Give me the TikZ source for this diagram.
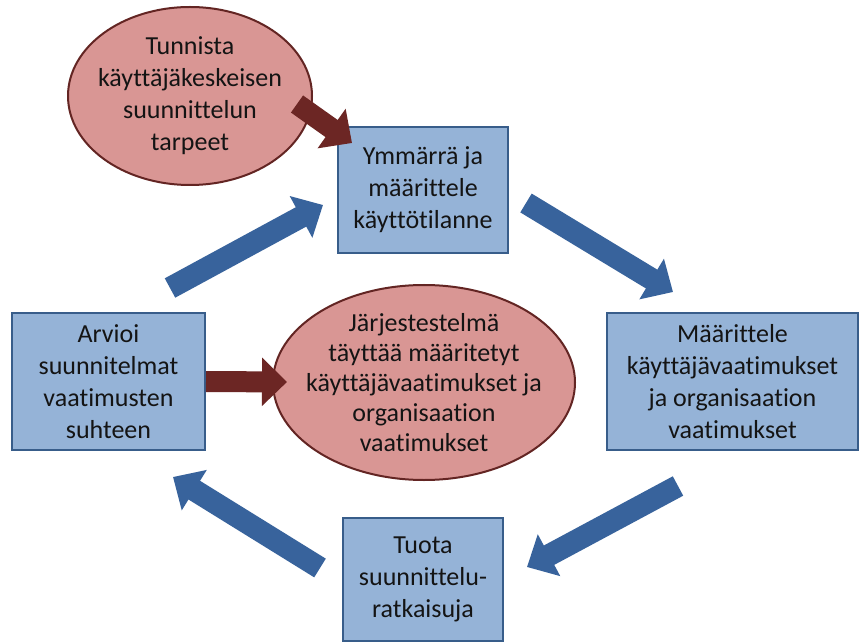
\documentclass[tikz,border=0pt]{standalone}
\usepackage{fontspec}
\setmainfont[RawFeature={-liga;-clig}]{Carlito}
\usetikzlibrary{shapes.geometric,arrows.meta}
\definecolor{boxfill}{RGB}{149,179,215}
\definecolor{boxline}{RGB}{56,93,138}
\definecolor{ellfill}{RGB}{217,150,148}
\definecolor{ellline}{RGB}{99,37,35}
\definecolor{redarrow}{RGB}{108,38,36}
\definecolor{bluearrow}{RGB}{56,99,156}
\definecolor{txt}{RGB}{20,20,20}
\begin{document}
\begin{tikzpicture}[x=1pt,y=-1pt,
  lbl/.style={font=\fontsize{26}{32}\selectfont, text=txt, align=center, inner sep=0pt},
  stepbox/.style={lbl, draw=boxline, line width=2pt, fill=boxfill, rectangle},
  goal/.style={draw=ellline, line width=2pt, fill=ellfill, ellipse, inner sep=0pt},
  bluearr/.style={draw=bluearrow, line width=22pt, -{Triangle[width=46pt,length=25pt]}},
  redarr/.style={draw=redarrow, line width=21pt, -{Triangle[width=47pt,length=25pt]}}]
\fill[white] (0,0) rectangle (859,644);
\path[use as bounding box] (0,0) rectangle (859,644);

% boxes
\node[stepbox, minimum width=170pt, minimum height=126pt] (ctx) at (423,190)
  {Ymmärrä ja\\määrittele\\käyttötilanne};
\node[stepbox, minimum width=251pt, minimum height=137pt] (req) at (732.5,381.5)
  {Määrittele\\käyttäjävaatimukset\\ja organisaation\\vaatimukset};
\node[stepbox, minimum width=160pt, minimum height=123pt] (sol) at (423,579.5)
  {Tuota\\suunnittelu-\\ratkaisuja};
\node[stepbox, minimum width=193pt, minimum height=137pt] (eval) at (108.5,381.5)
  {Arvioi\\suunnitelmat\\vaatimusten\\suhteen};

% ellipses
\node[goal, minimum width=244pt, minimum height=178pt] (needsE) at (190,96) {};
\node[lbl] (needs) at (needsE.center) {Tunnista\\käyttäjäkeskeisen\\suunnittelun\\tarpeet};
\node[goal, minimum width=302pt, minimum height=195pt] (doneE) at (424,382.5) {};
\node[lbl, font=\fontsize{26}{30}\selectfont] (done) at (doneE.center)
  {Järjestestelmä\\täyttää määritetyt\\käyttäjävaatimukset ja\\organisaation\\vaatimukset};

% blue cycle arrows
\coordinate (a1s) at (170,288); \coordinate (a1e) at (323,205);
\coordinate (a2s) at (526,203); \coordinate (a2e) at (673,292);
\coordinate (a3s) at (678,486); \coordinate (a3e) at (527,567);
\coordinate (a4s) at (320,568); \coordinate (a4e) at (173,477);
\draw[bluearr] (a1s) -- (a1e);
\draw[bluearr] (a2s) -- (a2e);
\draw[bluearr] (a3s) -- (a3e);
\draw[bluearr] (a4s) -- (a4e);

% dark red arrows
\coordinate (r1s) at (297,104); \coordinate (r1e) at (352,143);
\draw[redarr] (r1s) -- (r1e);
\coordinate (r2e) at (287,382);
\draw[redarr] (eval.east) -- (r2e);
\end{tikzpicture}
\end{document}
